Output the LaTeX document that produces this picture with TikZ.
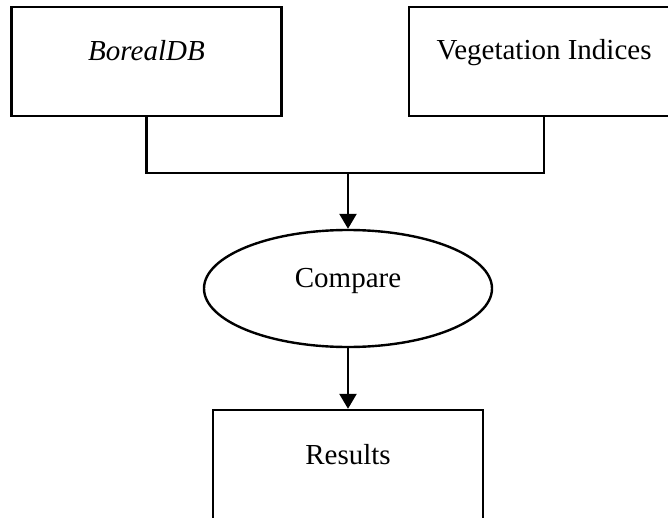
\documentclass[tikz,border=0pt]{standalone}
\usepackage{fontspec}
\setmainfont{Liberation Serif}
\usetikzlibrary{shapes.geometric,arrows.meta}
\begin{document}
\begin{tikzpicture}[x=0.5pt,y=-0.5pt,
  every node/.style={font=\fontsize{14.5pt}{17.5pt}\selectfont},
  boxnode/.style={draw,line width=1.2pt,rectangle,minimum width=135pt,minimum height=54.5pt,inner sep=0pt},
  ovalnode/.style={draw,line width=1.2pt,ellipse,minimum width=144pt,minimum height=58.5pt,inner sep=0pt},
  txt/.style={anchor=base,inner sep=0pt},
  conn/.style={line width=1.2pt},
  arr/.style={line width=1.2pt,-{Triangle[width=8.5pt,length=7.5pt]}}]
\useasboundingbox (0,0) rectangle (668,518);
\clip (0,0) rectangle (668,518);
\node[boxnode] (boreal) at (146.5,61.5) {};
\node[boxnode] (veg) at (544,61.5) {};
\node[ovalnode] (cmp) at (348,288.5) {};
\node[boxnode] (res) at (348,464.5) {};
\node[txt] (tboreal) at (146.5,61) {\itshape BorealDB};
\node[txt] (tveg) at (544,60) {Vegetation Indices};
\node[txt] (tcmp) at (348,287) {Compare};
\node[txt] (tres) at (348,464) {Results};
\coordinate (m) at (348,173);
\draw[conn] (boreal.south) |- (m) -| (veg.south);
\draw[arr] (m) -- (cmp.north);
\draw[arr] (cmp.south) -- (res.north);
\end{tikzpicture}
\end{document}
